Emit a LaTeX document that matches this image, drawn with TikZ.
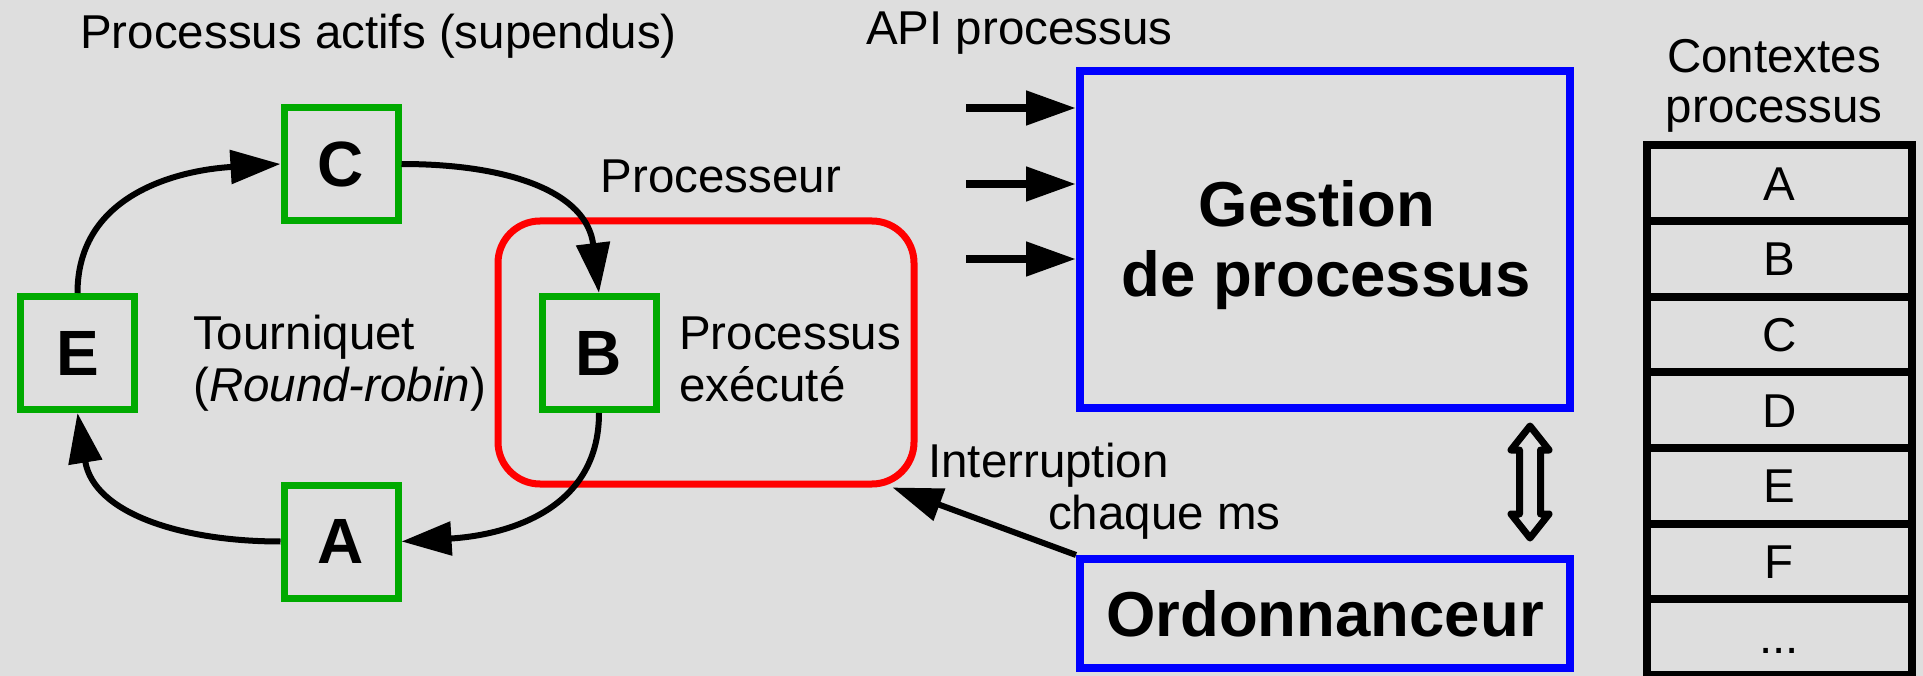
\documentclass[tikz,border=0pt]{standalone}
\usepackage{fontspec}
\setmainfont{Liberation Sans}
\usetikzlibrary{arrows.meta,positioning,calc}

\definecolor{bggray}{RGB}{222,222,222}
\definecolor{procgreen}{RGB}{0,170,0}
\definecolor{mgrblue}{RGB}{0,0,255}
\definecolor{cpured}{RGB}{255,0,0}

\begin{document}
\begin{tikzpicture}[x=1pt,y=-1pt,
  >={Triangle[length=50pt,width=33pt]},
  lbl/.style={font=\fontsize{47.5}{57}\selectfont, inner sep=0pt},
  boldlbl/.style={font=\fontsize{63.5}{70}\selectfont\bfseries, inner sep=0pt},
  proc/.style={draw=procgreen, line width=7pt, minimum width=114pt,
    minimum height=113pt, inner sep=0pt,
    font=\fontsize{64}{70}\selectfont\bfseries},
  cpubox/.style={draw=cpured, line width=7pt, rounded corners=42pt,
    minimum width=416pt, minimum height=263pt, inner sep=0pt},
  mgr/.style={draw=mgrblue, line width=8pt, inner sep=0pt},
  conn/.style={line width=6pt},
  apiarrow/.style={line width=8pt},
  ctx/.style={draw, line width=8pt, minimum width=264.5pt,
    minimum height=75.6pt, outer sep=0pt, inner sep=0pt,
    text height=34pt, text depth=0pt,
    font=\fontsize{47.5}{57}\selectfont},
  syncarrow/.style={draw, line width=7pt, line join=round, fill=bggray}
]
% canvas
\fill[bggray] (0,0) rectangle (1923,676);
\useasboundingbox (0,0) rectangle (1923,676);

% processor frame
\node[cpubox] (cpu) at (706,352.5) {};

% round-robin processes
\node[proc] (C) at (341,164) {C};
\node[proc] (E) at (77.5,353) {E};
\node[proc] (B) at (599,353) {B};
\node[proc] (A) at (341,541.5) {A};

\draw[conn,->] (E.north) .. controls +(0,-100) and +(-100,6) .. (C.west);
\draw[conn,->] (C.east) .. controls +(110,0) and +(-12,-100) .. (B.north);
\draw[conn,->] (B.south) .. controls +(0,100) and +(100,-6) .. (A.east);
\draw[conn,->] (A.west) .. controls +(-100,0) and +(16,100) .. (E.south);

% labels on the left
\node[lbl, anchor=base west] (title) at (80,49) {Processus actifs (supendus)};
\node[lbl, anchor=base] (cpulbl) at (721,193) {Processeur};
\node[lbl, anchor=base west] (rr1) at (193,350) {Tourniquet};
\node[lbl, anchor=base west] (rr2) at (193,402) {(\textit{Round-robin})};
\node[lbl, anchor=base west] (run1) at (679,349) {Processus};
\node[lbl, anchor=base west] (run2) at (679,402) {exécuté};

% process manager and scheduler
\node[mgr, minimum width=490pt, minimum height=337pt] (gestion) at (1325,239.5) {};
\node[boldlbl, anchor=base] (g1) at (1317,227) {Gestion};
\node[boldlbl, anchor=base] (g2) at (1326,297) {de processus};
\node[mgr, minimum width=490pt, minimum height=109pt, boldlbl] (ordo) at (1325,613.5) {Ordonnanceur};

% API calls
\node[lbl, anchor=base west] (api) at (866,45) {API processus};
\coordinate (api1) at (966,108);
\coordinate (api2) at (966,184);
\coordinate (api3) at (966,259);
\draw[apiarrow,->] (api1) -- (api1 -| gestion.west);
\draw[apiarrow,->] (api2) -- (api2 -| gestion.west);
\draw[apiarrow,->] (api3) -- (api3 -| gestion.west);

% timer interrupt
\draw[conn,->] (ordo.north west) -- ($(cpu.south east)+(-25,0)$);
\node[lbl, anchor=base west] (irq1) at (928,477) {Interruption};
\node[lbl, anchor=base west] (irq2) at (1048,529) {chaque ms};

% two-way link between manager and scheduler
\coordinate (dtop) at ($(gestion.south)+(205,14)$);
\coordinate (dbot) at ($(ordo.north)+(205,-17)$);
\draw[syncarrow] (dtop) -- ++(19,24) -- ++(-8.5,0) -- ($(dbot)+(10.5,-24)$)
  -- ++(8.5,0) -- (dbot) -- ++(-19,-24) -- ++(8.5,0)
  -- ($(dtop)+(-10.5,24)$) -- ++(-8.5,0) -- cycle;

% process contexts table
\node[lbl, anchor=base] (ctxt1) at (1774,73) {Contextes};
\node[lbl, anchor=base] (ctxt2) at (1774,123) {processus};
\node[ctx] (cA) at (1779.25,183.3) {A};
\node[ctx, below=0pt of cA] (cB) {B};
\node[ctx, below=0pt of cB] (cC) {C};
\node[ctx, below=0pt of cC] (cD) {D};
\node[ctx, below=0pt of cD] (cE) {E};
\node[ctx, below=0pt of cE] (cF) {F};
\node[ctx, below=0pt of cF] (cG) {...};
\end{tikzpicture}
\end{document}
